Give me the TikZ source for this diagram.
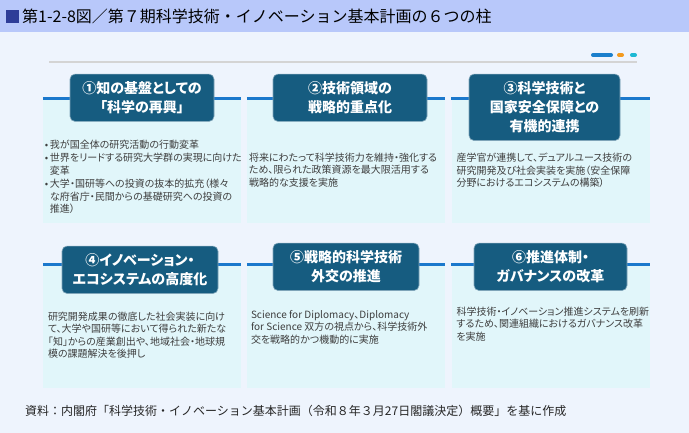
\documentclass[tikz,border=0pt]{standalone}
\usepackage{fontspec}
\usepackage{xcolor}
\usetikzlibrary{positioning}
\setmainfont{Noto Sans CJK JP}
\newfontfamily\jpp{Noto Sans CJK JP}[RawFeature=+palt]
\definecolor{FigBack}{HTML}{EEF4FD}
\definecolor{FigTitle}{HTML}{B8C8FA}
\definecolor{FigMark}{HTML}{2E3D98}
\definecolor{PillarHead}{HTML}{165C80}
\definecolor{PillarFill}{HTML}{E1F6FA}
\definecolor{PillarLine}{HTML}{1B78CC}
\definecolor{BodyGray}{HTML}{3E3E3E}
\definecolor{DashBlue}{HTML}{1B7FCC}
\definecolor{DashOrange}{HTML}{F39A1E}
\definecolor{DashCyan}{HTML}{1DB8D3}
\newcommand{\pt}{\makebox[5pt][l]{•}}

\begin{document}
\begin{tikzpicture}[x=1pt, y=1pt,
  pillar/.style={rectangle, fill=PillarFill, inner sep=0pt, minimum width=198pt},
  head/.style={rectangle, rounded corners=5pt, fill=PillarHead, draw=PillarHead!55!white, line width=0.6pt, text=white, anchor=north, align=center, inner xsep=4pt, inner ysep=7.5pt, font=\jpp\bfseries\fontsize{14}{19}\selectfont},
  body/.style={anchor=north west, align=left, inner sep=0pt, text=BodyGray, font=\jpp\fontsize{10}{12.5}\selectfont},
  topline/.style={PillarLine, line width=3pt}]

    \useasboundingbox (0,0) rectangle (689,433);
    \fill[FigBack] (0,0) rectangle (689,433);
    \fill[FigTitle] (0,401) rectangle (689,433);
    \fill[FigMark] (6,410) rectangle (19,423);
    \node[anchor=west, inner sep=0pt, font=\fontsize{16}{16}\selectfont] (ttl) at (22,417) {第1-2-8図／第７期科学技術・イノベーション基本計画の６つの柱};

    \draw[black!17, line width=1.5pt] (49,371) -- (637,371);
    \draw[DashBlue, line width=4pt, line cap=round] (593,378) -- (611,378);
    \draw[DashOrange, line width=4pt, line cap=round] (619,378) -- (622,378);
    \draw[DashCyan, line width=4pt, line cap=round] (632,378) -- (635,378);

    \node[pillar, minimum height=124pt] (p1) at (142,272) {};
    \node[pillar, minimum height=124pt] (p2) at (346,272) {};
    \node[pillar, minimum height=124pt] (p3) at (550.5,272) {};
    \node[pillar, minimum height=123pt] (p4) at (142,106.5) {};
    \node[pillar, minimum height=123pt] (p5) at (346,106.5) {};
    \node[pillar, minimum height=123pt] (p6) at (550.5,106.5) {};
    \foreach \p in {p1,p2,p3,p4,p5,p6}
        \draw[topline] (\p.north west) -- (\p.north east);

    \node[head, minimum width=144pt] (h1) at ([yshift=25pt]p1.north) {①知の基盤としての\\「科学の再興」};
    \node[head, minimum width=154pt] (h2) at ([shift={(4,25)}]p2.north) {②技術領域の\\戦略的重点化};
    \node[head, minimum width=151pt] (h3) at ([shift={(-6,25)}]p3.north) {③科学技術と\\国家安全保障との\\有機的連携};
    \node[head, minimum width=156pt] (h4) at ([shift={(-2,19)}]p4.north) {④イノベーション・\\エコシステムの高度化};
    \node[head, minimum width=146pt] (h5) at ([yshift=22pt]p5.north) {⑤戦略的科学技術\\外交の推進};
    \node[head, minimum width=153pt] (h6) at ([yshift=22pt]p6.north) {⑥推進体制・\\ガバナンスの改革};

    \node[body] (b1) at ([shift={(2,-41)}]p1.north west) {\pt 我が国全体の研究活動の行動変革\\[1pt]\pt 世界をリードする研究大学群の実現に向けた\\\hspace*{5pt}変革\\[1pt]\pt 大学・国研等への投資の抜本的拡充（様々\\\hspace*{5pt}な府省庁・民間からの基礎研究への投資の\\\hspace*{5pt}推進）};
    \node[body] (b2) at ([shift={(2,-54)}]p2.north west) {将来にわたって科学技術力を維持・強化する\\ため、限られた政策資源を最大限活用する\\戦略的な支援を実施};
    \node[body] (b3) at ([shift={(5,-54)}]p3.north west) {産学官が連携して、デュアルユース技術の\\研究開発及び社会実装を実施（安全保障\\分野におけるエコシステムの構築）};
    \node[body] (b4) at ([shift={(5,-47)}]p4.north west) {研究開発成果の徹底した社会実装に向け\\て、大学や国研等において得られた新たな\\「知」からの産業創出や、地域社会・地球規\\模の課題解決を後押し};
    \node[body] (b5) at ([shift={(4,-45)}]p5.north west) {Science for Diplomacy、Diplomacy\\for Science 双方の視点から、科学技術外\\交を戦略的かつ機動的に実施};
    \node[body] (b6) at ([shift={(5,-42)}]p6.north west) {科学技術・イノベーション推進システムを刷新\\するため、関連組織におけるガバナンス改革\\を実施};

    \node[anchor=west, inner sep=0pt, text=black!85, font=\fontsize{12}{12}\selectfont] (src) at (25,22) {資料：内閣府「科学技術・イノベーション基本計画（令和８年３月27日閣議決定）概要」を基に作成};

\end{tikzpicture}
\end{document}
